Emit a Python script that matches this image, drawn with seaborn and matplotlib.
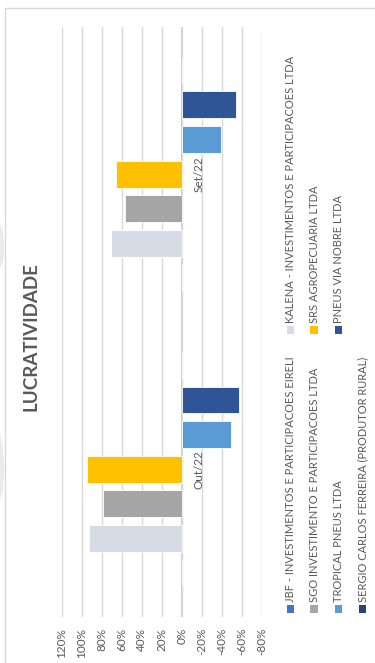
import pandas as pd
import matplotlib
matplotlib.use("Agg")
import matplotlib.pyplot as plt
import seaborn as sns
from matplotlib.patches import Rectangle, Polygon

# dados (lucratividade em %)
empresas = [
    "JBF - INVESTIMENTOS E PARTICIPACOES EIRELI",
    "KALENA - INVESTIMENTOS E PARTICIPACOES LTDA",
    "SGO INVESTIMENTO E PARTICIPACOES LTDA",
    "SRS AGROPECUARIA LTDA",
    "TROPICAL PNEUS LTDA",
    "PNEUS VIA NOBRE LTDA",
    "SERGIO CARLOS FERREIRA (PRODUTOR RURAL)",
]
cores = ["#4472C4", "#D6DCE5", "#A5A5A5", "#FFC000", "#5B9BD5", "#2F5597", "#264478"]
meses = ["Out/22", "Set/22"]
out22 = [0, 93, 79, 95, -49, -57, 0]
set22 = [0, 71, 57, 66, -39, -54, 0]
ticks = [120, 100, 80, 60, 40, 20, 0, -20, -40, -60, -80]

df = pd.DataFrame({
    "mes": ["Out/22"] * len(empresas) + ["Set/22"] * len(empresas),
    "empresa": empresas * 2,
    "valor": out22 + set22,
})

sns.set_style("white")
plt.rcParams["font.family"] = ["Lato", "DejaVu Sans"]
cinza = "#595959"

W, H = 375, 663
def fx(x):
    return x / W
def fy(y):
    return 1 - y / H

fig = plt.figure(figsize=(W / 100, H / 100), dpi=100)
ax = fig.add_axes([fx(61.7), fy(616.7), fx(261.7) - fx(61.7), fy(26.5) - fy(616.7)])

# grafico girado: barras horizontais, eixo de valores invertido
sns.barplot(data=df, x="valor", y="mes", hue="empresa",
            order=meses[::-1], hue_order=empresas[::-1],
            palette=dict(zip(empresas, cores)), orient="h",
            width=0.82, gap=0.22, saturation=1, errorbar=None,
            edgecolor="white", linewidth=0.6, legend=False, ax=ax)

ax.set_xlim(120, -80)
ax.set_ylim(1.5, -0.5)
ax.set_axisbelow(True)
ax.grid(axis="x", color="#D9D9D9", lw=1)
ax.axvline(0, color="#C8C8C8", lw=1.3, zorder=0.5)
for s in ax.spines.values():
    s.set_visible(False)

ax.set_xticks(ticks)
ax.set_xticklabels([f"{t}%" for t in ticks], rotation=90, color=cinza, fontsize=8.5)
ax.tick_params(axis="x", length=0, pad=8)
ax.set_yticks([])
ax.set_xlabel("")
ax.set_ylabel("")

# rotulos de categoria ao lado da linha do zero
for i, m in enumerate(meses[::-1]):
    ax.annotate(m, xy=(0, i), xytext=(12.2, 0), textcoords="offset points",
                rotation=90, ha="center", va="center", color=cinza, fontsize=8.5)

# titulo
fig.text(fx(31.5), fy(337), "LUCRATIVIDADE", rotation=90, ha="center", va="center",
         fontsize=13.5, fontweight="bold", color=cinza)

# legenda manual (girada)
col_x = [290.5, 314, 338.5, 362.5]
pos = {
    empresas[0]: (col_x[0], 609), empresas[1]: (col_x[0], 330),
    empresas[2]: (col_x[1], 609), empresas[3]: (col_x[1], 330),
    empresas[4]: (col_x[2], 609), empresas[5]: (col_x[2], 330),
    empresas[6]: (col_x[3], 609),
}
for nome, cor in zip(empresas, cores):
    x, y = pos[nome]
    fig.add_artist(Rectangle((fx(x - 3.8), fy(y + 3.8)), 7.6 / W, 7.6 / H,
                             transform=fig.transFigure, facecolor=cor, edgecolor="none"))
    fig.text(fx(x), fy(y - 7), nome, rotation=90, ha="center", va="bottom",
             color=cinza, fontsize=8)

# manchas claras na margem esquerda
for pts in ([(0, 222), (3, 232), (4.5, 248), (3, 262), (0, 268)],
            [(0, 433), (3, 448), (4.5, 468), (3, 490), (0, 500)]):
    fig.add_artist(Polygon([(fx(a), fy(b)) for a, b in pts], closed=True,
                           transform=fig.transFigure, facecolor="#EBEBEE", edgecolor="none"))

# borda do grafico
fig.add_artist(Rectangle((fx(5), -0.1), 2, fy(8) + 0.1, transform=fig.transFigure,
                         facecolor="none", edgecolor="#D9D9D9", lw=1))

fig.savefig("out.png", dpi=100)
